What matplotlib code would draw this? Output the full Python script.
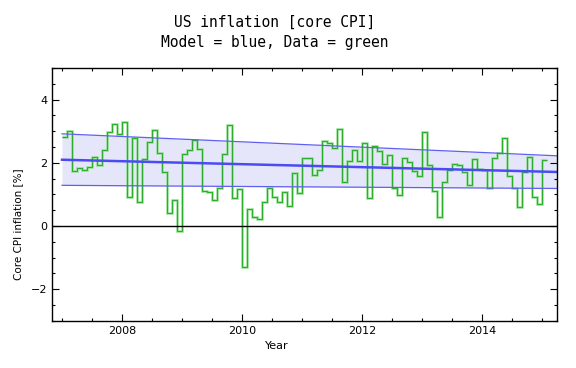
import numpy as np
import matplotlib
matplotlib.use("Agg")
import matplotlib.pyplot as plt
from matplotlib.ticker import MultipleLocator

# monthly core CPI inflation [%], Jan 2007 .. Jan 2015
start_year = 2007
core_cpi = [
    2.81, 3.00, 1.74, 1.83, 1.79, 1.86, 2.19, 1.93, 2.41, 2.98, 3.22, 2.90,
    3.30, 0.91, 2.80, 0.76, 2.11, 2.65, 3.04, 2.32, 1.72, 0.40, 0.84, -0.14,
    2.27, 2.41, 2.72, 2.43, 1.11, 1.08, 0.82, 1.19, 2.27, 3.20, 0.88, 1.17,
    -1.31, 0.53, 0.30, 0.21, 0.77, 1.19, 0.91, 0.77, 1.09, 0.63, 1.69, 1.05,
    2.14, 2.16, 1.61, 1.77, 2.70, 2.63, 2.48, 3.06, 1.40, 2.07, 2.41, 2.07,
    2.62, 0.88, 2.54, 2.38, 1.96, 2.25, 1.19, 0.98, 2.14, 2.03, 1.75, 1.57,
    2.98, 1.93, 1.10, 0.30, 1.40, 1.79, 1.96, 1.93, 1.72, 1.30, 2.12, 1.81,
    1.77, 1.22, 2.17, 2.32, 2.80, 1.59, 1.19, 0.59, 1.70, 2.19, 0.91, 0.70,
    2.08,
]

# model (blue) and its band
model_years = [2007.0, 2015.3]
model_center = [2.10, 1.71]
model_upper = [2.92, 2.22]
model_lower = [1.29, 1.19]

edges = start_year + np.arange(len(core_cpi) + 1) / 12.0

fig = plt.figure(figsize=(5.76, 3.68), dpi=100)
ax = fig.add_axes([0.091, 0.128, 0.876, 0.687])

ax.fill_between(model_years, model_lower, model_upper, color="#e6e6fa", lw=0)
ax.plot(model_years, model_upper, color="#6060f0", lw=0.9)
ax.plot(model_years, model_lower, color="#6060f0", lw=0.9)
ax.plot(model_years, model_center, color="#4b4bf5", lw=1.8)

ax.axhline(0, color="black", lw=1)

ax.stairs(core_cpi, edges, baseline=None, color="#8ade8a", lw=1.8)
ax.stairs(core_cpi, edges, baseline=None, color="#2aad2a", lw=0.7)

ax.set_xlim(2006.84, 2015.25)
ax.set_ylim(-3, 5)

ax.xaxis.set_major_locator(MultipleLocator(2))
ax.xaxis.set_minor_locator(MultipleLocator(0.5))
ax.yaxis.set_major_locator(MultipleLocator(2))
ax.yaxis.set_minor_locator(MultipleLocator(0.5))
ax.tick_params(which="both", direction="in", top=True, right=True, width=0.8)
ax.tick_params(which="major", length=5, labelsize=8)
ax.tick_params(which="minor", length=2.5)

for s in ax.spines.values():
    s.set_linewidth(1)

ax.set_xlabel("Year", fontsize=8, va="center")
ax.xaxis.set_label_coords(0.444, -0.099)
ax.set_ylabel("Core CPI inflation [%]", fontsize=7.5, va="center")
ax.yaxis.set_label_coords(-0.068, 0.383)

fig.text(275 / 576, 1 - 22 / 368, "US inflation [core CPI]", ha="center", va="center",
         fontsize=10.5, family="DejaVu Sans Mono")
fig.text(275 / 576, 1 - 42 / 368, "Model = blue, Data = green", ha="center", va="center",
         fontsize=10.5, family="DejaVu Sans Mono")

fig.savefig("out.png", dpi=100)
